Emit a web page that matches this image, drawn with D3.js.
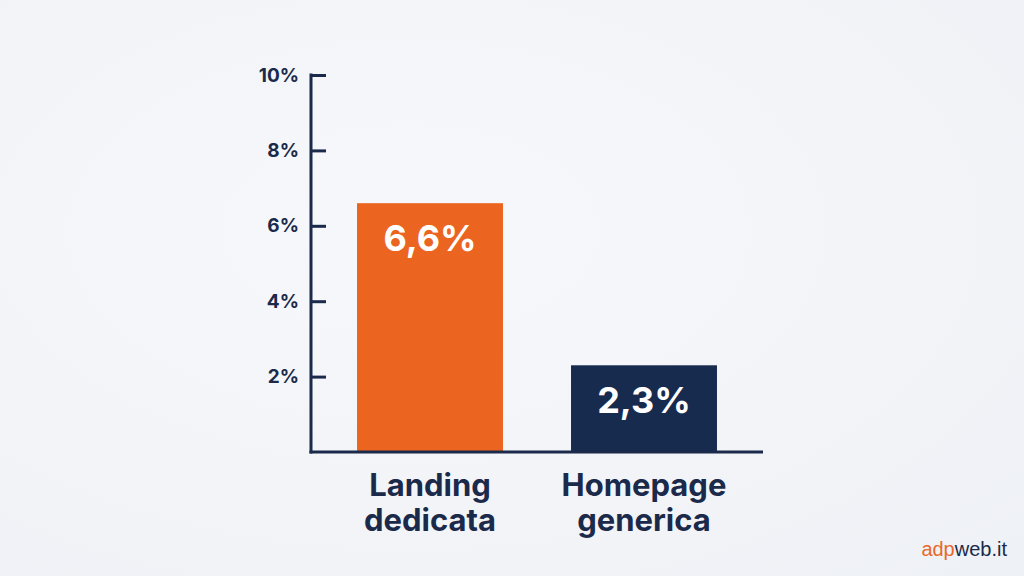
<!DOCTYPE html>
<html>
<head>
<meta charset="utf-8">
<script src="https://cdn.jsdelivr.net/npm/d3@7"></script>
<style>
  html, body { margin: 0; padding: 0; }
  body { width: 1024px; height: 576px; overflow: hidden;
         background: radial-gradient(ellipse at 40% 40%, #f7f8fb 0%, #f1f3f7 70%, #eef1f5 100%);
         font-family: Inter, "Open Sans", sans-serif; }
</style>
</head>
<body>
<svg id="chart" width="1024" height="576"></svg>
<script>
var categories = [["Landing", "dedicata"], ["Homepage", "generica"]];
var values = [6.6, 2.3];
var valueLabels = ["6,6%", "2,3%"];
var barColors = ["#eb6420", "#172b4f"];
var yTicks = [2, 4, 6, 8, 10];

var navy = "#1b2a4a";
var svg = d3.select("#chart");

var y = d3.scaleLinear().domain([0, 10]).range([452, 75]);
var x = d3.scaleBand().domain(d3.range(values.length)).range([323, 751])
  .paddingInner(0.318).paddingOuter(0.159);

// bars
svg.selectAll("rect.bar")
  .data(values)
  .enter().append("rect")
  .attr("class", "bar")
  .attr("x", function(d, i){ return x(i); })
  .attr("y", function(d){ return y(d); })
  .attr("width", x.bandwidth())
  .attr("height", function(d){ return y(0) - y(d); })
  .attr("fill", function(d, i){ return barColors[i]; });

// value labels
svg.selectAll("text.val")
  .data(values)
  .enter().append("text")
  .attr("class", "val")
  .attr("x", function(d, i){ return x(i) + x.bandwidth() / 2; })
  .attr("y", function(d){ return y(d) + 48; })
  .attr("text-anchor", "middle")
  .attr("fill", "#ffffff")
  .style("font-size", "36px")
  .style("font-weight", 700)
  .text(function(d, i){ return valueLabels[i]; });

// y axis
var yAxis = d3.axisLeft(y).tickValues(yTicks).tickSize(-15).tickPadding(12)
  .tickFormat(function(d){ return d + "%"; });
var ga = svg.append("g").attr("transform", "translate(311,0)").call(yAxis);
ga.select(".domain").remove();
ga.selectAll(".tick line").attr("stroke", navy).attr("stroke-width", 3);
ga.selectAll(".tick text").attr("fill", navy)
  .style("font-size", "19px").style("font-weight", 700)
  .style("font-family", "Inter, 'Open Sans', sans-serif");

svg.append("line")
  .attr("x1", 311).attr("x2", 311).attr("y1", y(10) - 1.5).attr("y2", y(0) + 1.5)
  .attr("stroke", navy).attr("stroke-width", 3);
svg.append("line")
  .attr("x1", 309.5).attr("x2", 763).attr("y1", y(0)).attr("y2", y(0))
  .attr("stroke", navy).attr("stroke-width", 3);

// category labels
var cat = svg.selectAll("text.cat")
  .data(categories)
  .enter().append("text")
  .attr("class", "cat")
  .attr("text-anchor", "middle")
  .attr("fill", navy)
  .style("font-size", "31px")
  .style("font-weight", 700);
cat.selectAll("tspan")
  .data(function(d, i){ return d.map(function(s){ return {s: s, i: i}; }); })
  .enter().append("tspan")
  .attr("x", function(d){ return x(d.i) + x.bandwidth() / 2; })
  .attr("y", function(d, j){ return 496 + j * 35; })
  .text(function(d){ return d.s; });

// watermark
var wm = svg.append("text").attr("x", 1007).attr("y", 556).attr("text-anchor", "end")
  .style("font-size", "20px").style("font-family", "'Liberation Sans', Arial, sans-serif");
wm.append("tspan").attr("fill", "#e8692a").text("adp");
wm.append("tspan").attr("fill", navy).text("web.it");
</script>
</body>
</html>
